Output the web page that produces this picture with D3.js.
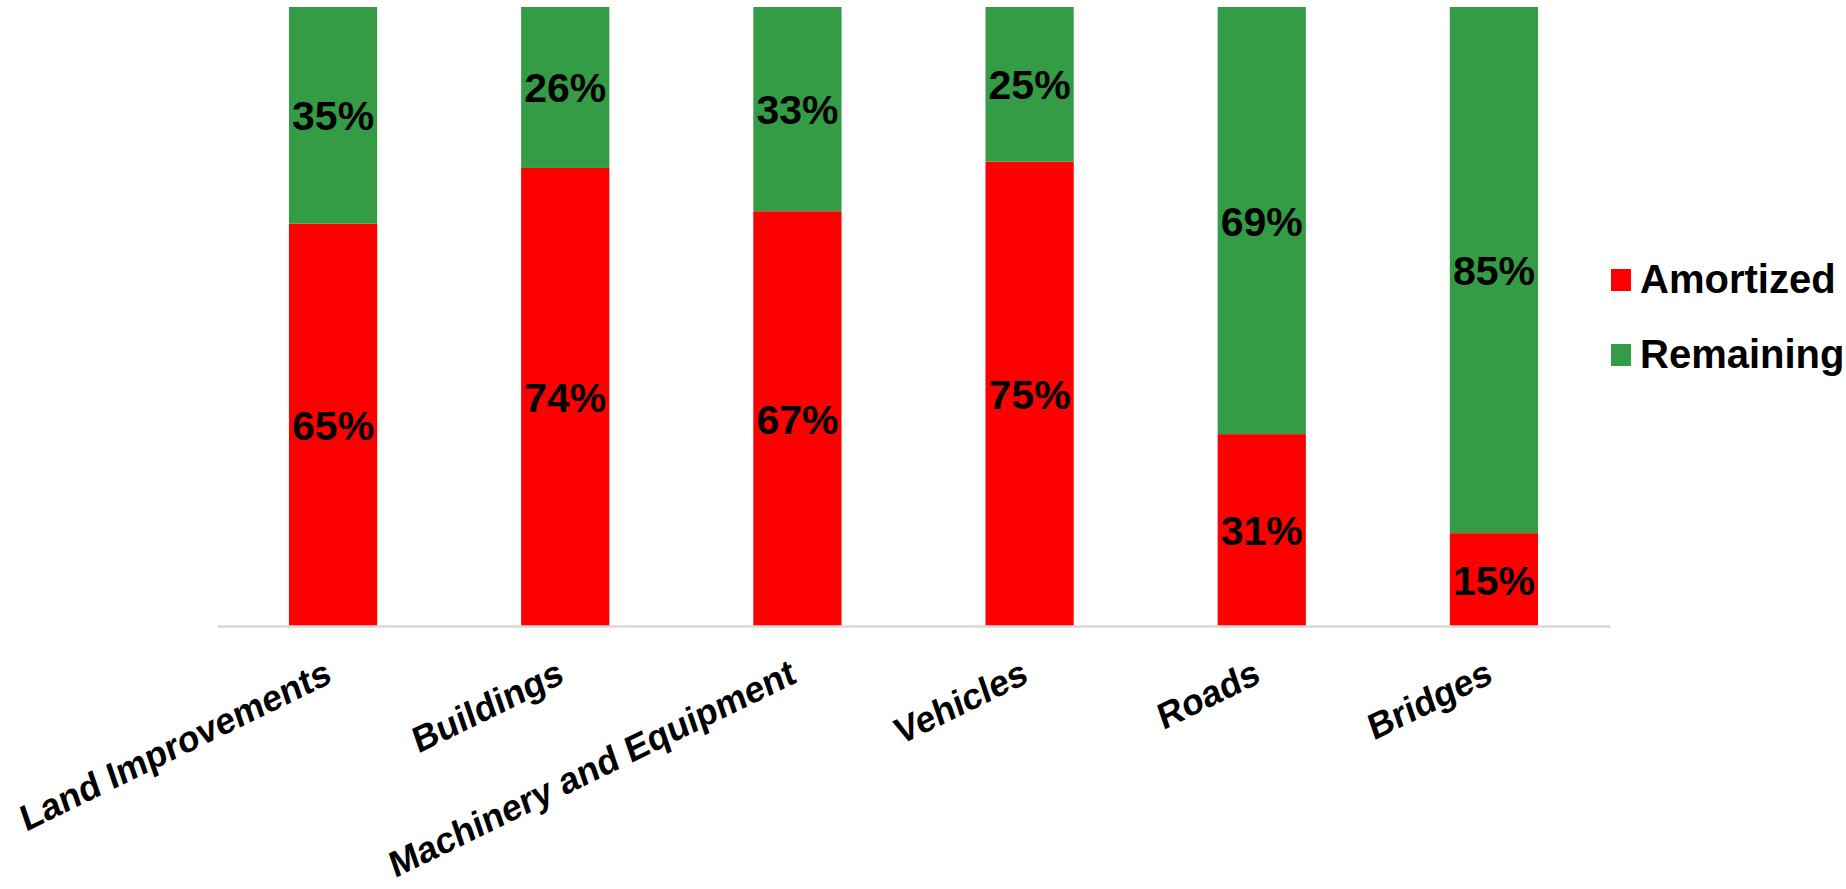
<!DOCTYPE html>
<html>
<head>
<meta charset="utf-8">
<script src="https://cdn.jsdelivr.net/npm/d3@7"></script>
<style>
  html, body { margin: 0; padding: 0; background: #fff; }
  svg { display: block; }
  text { font-family: "Liberation Sans", Arial, sans-serif; font-weight: bold; fill: #000; }
</style>
</head>
<body>
<svg id="chart" width="1846" height="889"></svg>
<script>
const categories = ["Land Improvements", "Buildings", "Machinery and Equipment", "Vehicles", "Roads", "Bridges"];
const amortized = [65, 74, 67, 75, 31, 15];
const remaining = [35, 26, 33, 25, 69, 85];
const seriesNames = ["Amortized", "Remaining"];
const seriesColors = ["#ff0000", "#339c44"];

const svg = d3.select("#chart");
const rows = categories.map((c, i) => ({ cat: c, Amortized: amortized[i], Remaining: remaining[i] }));
const stack = d3.stack().keys(seriesNames)(rows);

const x = d3.scaleBand().domain(categories).range([217, 1610]).paddingInner(0.62).paddingOuter(0.31);
const y = d3.scaleLinear().domain([0, 100]).range([626, 7]);
const color = d3.scaleOrdinal().domain(seriesNames).range(seriesColors);

// bars
const groups = svg.append("g").selectAll("g").data(stack).join("g")
  .attr("fill", d => color(d.key));
groups.selectAll("rect").data(d => d).join("rect")
  .attr("x", d => x(d.data.cat))
  .attr("width", x.bandwidth())
  .attr("y", d => y(d[1]))
  .attr("height", d => y(d[0]) - y(d[1]));

// value labels
groups.selectAll("text").data(d => d).join("text")
  .attr("x", d => x(d.data.cat) + x.bandwidth() / 2)
  .attr("y", d => (y(d[0]) + y(d[1])) / 2 + 15)
  .attr("text-anchor", "middle")
  .style("font-size", "41px")
  .text(d => (d[1] - d[0]) + "%");

// x axis
const axis = svg.append("g").attr("transform", "translate(0,626)")
  .call(d3.axisBottom(x).tickSize(0).tickPadding(0));
axis.select(".domain").attr("stroke", "#d9d9d9").attr("stroke-width", 2.5);
axis.selectAll(".tick text")
  .attr("y", 0).attr("dy", 0)
  .attr("text-anchor", "end")
  .attr("transform", "translate(0,56) rotate(-26) skewX(-7)")
  .style("font-size", "36px")
  .style("font-family", "'Liberation Sans', Arial, sans-serif")
  .style("font-weight", "bold")
  .attr("fill", "#000");

// legend
const legend = svg.append("g").selectAll("g").data(seriesNames).join("g")
  .attr("transform", (d, i) => `translate(1611,${269 + i * 75})`);
legend.append("rect").attr("width", 20).attr("height", 22).attr("fill", d => color(d));
legend.append("text").attr("x", 29).attr("y", 24)
  .style("font-size", "40px")
  .text(d => d);
</script>
</body>
</html>
